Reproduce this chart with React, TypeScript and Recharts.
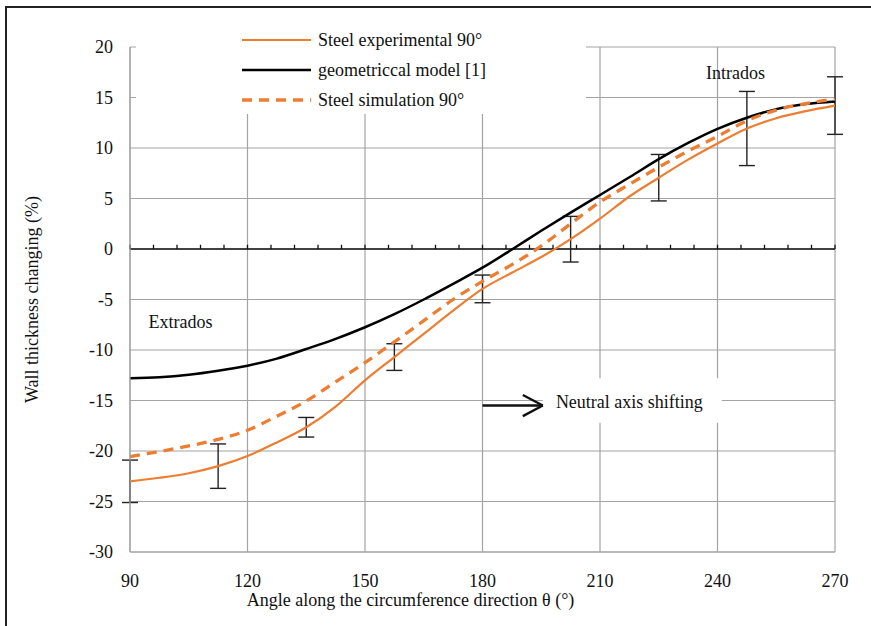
import {
  LineChart,
  Line,
  XAxis,
  YAxis,
  CartesianGrid,
  ReferenceLine,
  ReferenceArea,
  ReferenceDot,
  ErrorBar,
  Legend,
} from "recharts"

// sampled angles (deg) along the circumference
const angles = [
  90, 97.5, 105, 112.5, 120, 127.5, 135, 142.5, 150, 157.5, 165, 172.5, 180,
  187.5, 195, 202.5, 210, 217.5, 225, 232.5, 240, 247.5, 255, 262.5, 270,
]

// wall thickness change (%)
const experimental = [
  -23.0, -22.65, -22.2, -21.5, -20.5, -19.15, -17.65, -15.6, -13.0, -10.7, -8.4, -6.1, -3.95,
  -2.35, -0.8, 0.97, 3.0, 5.2, 7.06, 8.85, 10.45, 11.93, 12.95, 13.65, 14.2,
]
const geometric = [
  -12.8, -12.7, -12.45, -12.05, -11.55, -10.85, -9.9, -8.9, -7.75, -6.45, -5.0, -3.45, -1.85,
  -0.05, 1.8, 3.6, 5.35, 7.1, 8.9, 10.5, 11.9, 13.0, 13.85, 14.35, 14.6,
]
const simulation = [
  -20.55, -20.05, -19.5, -18.85, -17.95, -16.55, -15.05, -13.15, -11.25, -9.2, -7.1, -5.0, -3.2,
  -1.55, 0.3, 2.5, 4.65, 6.4, 8.1, 9.7, 11.15, 12.7, 13.75, 14.4, 14.85,
]

// measured scatter (+/-) at the test positions
const errAngles = [90, 112.5, 135, 157.5, 180, 202.5, 225, 247.5, 270]
const expError = [2.1, 2.2, 0.97, 1.32, 1.37, 2.26, 2.3, 3.67, 2.85]

const seriesNames = ["Steel experimental 90°", "geometriccal model [1]", "Steel simulation 90°"]

const xTicks = [90, 120, 150, 180, 210, 240, 270]
const yTicks = [-30, -25, -20, -15, -10, -5, 0, 5, 10, 15, 20]
const zeroAxisTicks = Array.from({ length: 31 }, (_, i) => 90 + i * 6)

const serif = "Liberation Serif"
const ORANGE = "#ED7D31"
const GRID = "#a3a3a3"
const INK = "#111"
const FS = 18

const expData = angles.map((angle, i) => {
  const k = errAngles.indexOf(angle)
  return { angle, value: experimental[i], err: k >= 0 ? expError[k] : undefined }
})
const geoData = angles.map((angle, i) => ({ angle, value: geometric[i] }))
const simData = angles.map((angle, i) => ({ angle, value: simulation[i] }))

const legendStyles = [
  { color: ORANGE, width: 2.2, dash: undefined },
  { color: "#000", width: 2.5, dash: undefined },
  { color: ORANGE, width: 3.3, dash: "10 7" },
]

function LegendBox() {
  return (
    <div
      style={{
        background: "#fff",
        width: "100%",
        height: "100%",
        paddingTop: 5,
        boxSizing: "border-box",
        fontFamily: serif,
        fontSize: FS,
        color: INK,
      }}
    >
      {seriesNames.map((name, i) => (
        <div key={name} style={{ display: "flex", alignItems: "center", height: 30 }}>
          <svg width={69} height={10} style={{ marginLeft: 106, marginRight: 7 }}>
            <line
              x1={0}
              x2={69}
              y1={5}
              y2={5}
              stroke={legendStyles[i].color}
              strokeWidth={legendStyles[i].width}
              strokeDasharray={legendStyles[i].dash}
            />
          </svg>
          <span style={{ whiteSpace: "nowrap" }}>{name}</span>
        </div>
      ))}
    </div>
  )
}

const noteLabel = (value: string) => ({
  value,
  position: "center" as const,
  fill: INK,
  fontSize: FS,
  fontFamily: serif,
})

export default function App() {
  return (
    <div
      style={{
        position: "absolute",
        left: 0,
        top: 0,
        width: 871,
        height: 626,
        background: "#fff",
        overflow: "hidden",
      }}
    >
      <div
        style={{
          position: "absolute",
          left: 5,
          top: 6,
          width: 900,
          height: 700,
          borderTop: "2px solid #222",
          borderLeft: "2px solid #222",
        }}
      />
      <div style={{ position: "absolute", left: 0, top: 0 }}>
        <LineChart width={871} height={626} margin={{ top: 47, right: 36, bottom: 0, left: 0 }}>
          <CartesianGrid stroke={GRID} strokeWidth={1.2} />
          <XAxis
            dataKey="angle"
            type="number"
            domain={[90, 270]}
            ticks={xTicks}
            allowDataOverflow
            height={74}
            tickLine={false}
            tickSize={0}
            tickMargin={22}
            axisLine={{ stroke: GRID, strokeWidth: 1.2 }}
            tick={{ fill: INK, fontSize: FS, fontFamily: serif }}
            label={{
              value: "Angle along the circumference direction θ (°)",
              position: "insideBottom",
              offset: 20,
              dx: -72,
              fill: INK,
              fontSize: FS,
              fontFamily: serif,
            }}
          />
          <YAxis
            type="number"
            domain={[-30, 20]}
            ticks={yTicks}
            width={130}
            tickLine={false}
            tickSize={0}
            tickMargin={17}
            axisLine={{ stroke: GRID, strokeWidth: 1.2 }}
            tick={{ fill: INK, fontSize: FS, fontFamily: serif }}
            label={{
              value: "Wall thickness changing  (%)",
              angle: -90,
              position: "insideLeft",
              offset: 32,
              fill: INK,
              fontSize: FS,
              fontFamily: serif,
              style: { textAnchor: "middle" },
            }}
          />

          {/* white panel behind the annotation */}
          <ReferenceArea x1={195.4} x2={241.1} y1={-17.2} y2={-12.8} fill="#fff" fillOpacity={1} stroke="none" />

          {/* axis through zero with minor ticks */}
          <ReferenceLine y={0} stroke={INK} strokeWidth={1.6} />
          {zeroAxisTicks.map((t) => (
            <ReferenceLine
              key={t}
              segment={[
                { x: t, y: 0 },
                { x: t, y: 0.42 },
              ]}
              stroke={INK}
              strokeWidth={1.3}
            />
          ))}

          {/* arrow pointing at the shifted neutral axis note */}
          <ReferenceLine segment={[{ x: 180, y: -15.5 }, { x: 195.4, y: -15.5 }]} stroke={INK} strokeWidth={2.4} />
          <ReferenceLine segment={[{ x: 190.3, y: -14.45 }, { x: 195.4, y: -15.5 }]} stroke={INK} strokeWidth={2.4} />
          <ReferenceLine segment={[{ x: 190.3, y: -16.55 }, { x: 195.4, y: -15.5 }]} stroke={INK} strokeWidth={2.4} />

          <ReferenceDot x={217.5} y={-15.15} r={0} stroke="none" label={noteLabel("Neutral axis shifting")} />
          <ReferenceDot x={102.9} y={-7.2} r={0} stroke="none" label={noteLabel("Extrados")} />
          <ReferenceDot x={244.6} y={17.45} r={0} stroke="none" label={noteLabel("Intrados")} />

          <Line
            data={expData}
            dataKey="value"
            name={seriesNames[0]}
            type="monotone"
            stroke={ORANGE}
            strokeWidth={2.2}
            dot={false}
            isAnimationActive={false}
          >
            <ErrorBar dataKey="err" direction="y" width={8} stroke="#222" strokeWidth={1.4} isAnimationActive={false} />
          </Line>
          <Line
            data={geoData}
            dataKey="value"
            name={seriesNames[1]}
            type="monotone"
            stroke="#000"
            strokeWidth={2.5}
            dot={false}
            isAnimationActive={false}
          />
          <Line
            data={simData}
            dataKey="value"
            name={seriesNames[2]}
            type="monotone"
            stroke={ORANGE}
            strokeWidth={3.3}
            strokeDasharray="10 7"
            dot={false}
            isAnimationActive={false}
          />

          <Legend
            layout="vertical"
            align="center"
            verticalAlign="middle"
            content={<LegendBox />}
            wrapperStyle={{ left: 136, top: 20, width: 450, height: 94 }}
          />
        </LineChart>
      </div>
    </div>
  )
}
